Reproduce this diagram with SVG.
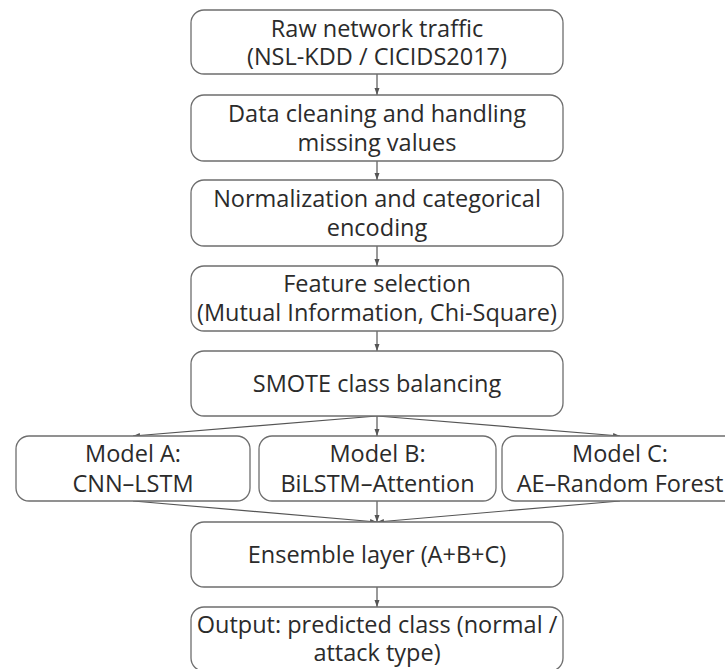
<svg xmlns="http://www.w3.org/2000/svg" width="725" height="669" viewBox="0 0 725 669">
<defs>
<style>
.box{fill:#ffffff;stroke:#6e6e6e;stroke-width:1.3}
.t{font-family:"Open Sans","Noto Sans","DejaVu Sans",sans-serif;font-size:23.5px;fill:#2b2b2b;text-anchor:middle}
.c{fill:none;stroke:#555555;stroke-width:1.2}
</style>
<marker id="ah" markerWidth="8" markerHeight="6" refX="7" refY="3" orient="auto" markerUnits="userSpaceOnUse">
<path d="M0,0.5 L7,3 L0,5.5 Z" fill="#555555"/>
</marker>
</defs>
<rect width="725" height="669" fill="#ffffff"/>
<g id="connectors">
<line class="c" x1="377" y1="74" x2="377" y2="95" marker-end="url(#ah)"/>
<line class="c" x1="377" y1="161" x2="377" y2="180" marker-end="url(#ah)"/>
<line class="c" x1="377" y1="246" x2="377" y2="266" marker-end="url(#ah)"/>
<line class="c" x1="377" y1="331" x2="377" y2="351" marker-end="url(#ah)"/>
<line class="c" x1="377" y1="416" x2="133" y2="436" marker-end="url(#ah)"/>
<line class="c" x1="377" y1="416" x2="377" y2="436" marker-end="url(#ah)"/>
<line class="c" x1="377" y1="416" x2="620" y2="436" marker-end="url(#ah)"/>
<line class="c" x1="133" y1="501" x2="377" y2="522" marker-end="url(#ah)"/>
<line class="c" x1="377" y1="501" x2="377" y2="522" marker-end="url(#ah)"/>
<line class="c" x1="620" y1="501" x2="377" y2="522" marker-end="url(#ah)"/>
<line class="c" x1="377" y1="587" x2="377" y2="607" marker-end="url(#ah)"/>
</g>
<g id="raw">
<rect class="box" x="191" y="10" width="372" height="64" rx="13"/>
<text class="t" x="377" y="37">Raw network traffic</text>
<text class="t" x="377" y="65">(NSL-KDD / CICIDS2017)</text>
</g>
<g id="cleaning">
<rect class="box" x="191" y="95" width="372" height="66" rx="13"/>
<text class="t" x="377" y="122">Data cleaning and handling</text>
<text class="t" x="377" y="151">missing values</text>
</g>
<g id="normalization">
<rect class="box" x="191" y="180" width="372" height="66" rx="13"/>
<text class="t" x="377" y="207">Normalization and categorical</text>
<text class="t" x="377" y="236">encoding</text>
</g>
<g id="features">
<rect class="box" x="191" y="266" width="372" height="65" rx="13"/>
<text class="t" x="377" y="292">Feature selection</text>
<text class="t" x="377" y="321">(Mutual Information, Chi-Square)</text>
</g>
<g id="smote">
<rect class="box" x="191" y="351" width="372" height="65" rx="13"/>
<text class="t" x="377" y="392">SMOTE class balancing</text>
</g>
<g id="modelA">
<rect class="box" x="16" y="436" width="234" height="65" rx="13"/>
<text class="t" x="133" y="462">Model A:</text>
<text class="t" x="133" y="492">CNN–LSTM</text>
</g>
<g id="modelB">
<rect class="box" x="259" y="436" width="237" height="65" rx="13"/>
<text class="t" x="377.5" y="462">Model B:</text>
<text class="t" x="377.5" y="492">BiLSTM–Attention</text>
</g>
<g id="modelC">
<rect class="box" x="502" y="436" width="236" height="65" rx="13"/>
<text class="t" x="620" y="462">Model C:</text>
<text class="t" x="620" y="492">AE–Random Forest</text>
</g>
<g id="ensemble">
<rect class="box" x="191" y="522" width="372" height="65" rx="13"/>
<text class="t" x="377" y="563">Ensemble layer (A+B+C)</text>
</g>
<g id="output">
<rect class="box" x="191" y="607" width="372" height="64" rx="13"/>
<text class="t" x="377" y="633">Output: predicted class (normal /</text>
<text class="t" x="377" y="661">attack type)</text>
</g>
</svg>
